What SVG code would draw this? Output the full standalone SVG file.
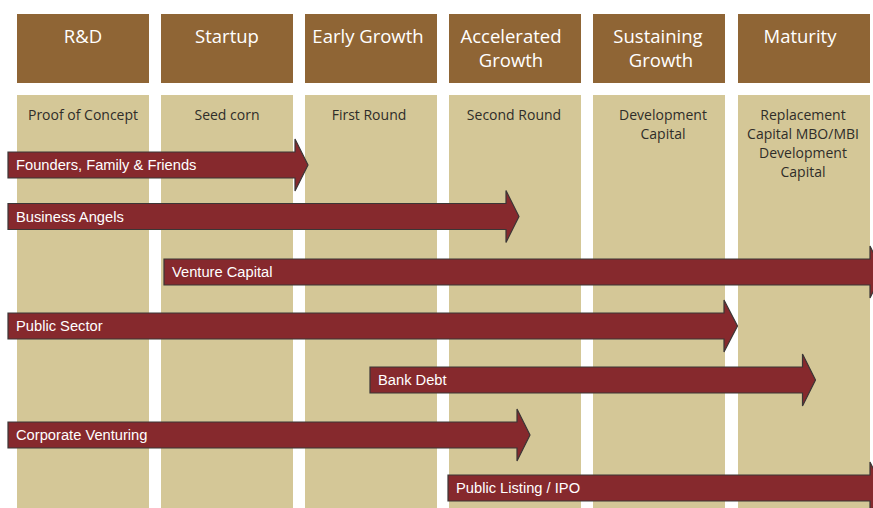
<svg xmlns="http://www.w3.org/2000/svg" width="873" height="508" viewBox="0 0 873 508">
  <style>
    .hdr { fill: #8f6535; }
    .col { fill: #d4c797; }
    .htxt { font-family: "Open Sans", "Noto Sans", sans-serif; font-size: 18.5px; fill: #ffffff; text-anchor: middle; }
    .stxt { font-family: "Open Sans", "Noto Sans", sans-serif; font-size: 14px; fill: #2f2d29; text-anchor: middle; }
    .arrow { fill: #86292d; stroke: #3b3636; stroke-width: 1.2; stroke-linejoin: miter; }
    .atxt { font-family: "Liberation Sans", Arial, sans-serif; font-size: 14.7px; fill: #ffffff; }
  </style>
  <rect width="873" height="508" fill="#ffffff"/>

  <!-- stage columns -->
  <g id="stage-rd">
    <rect class="hdr" x="17" y="14" width="132" height="69"/>
    <rect class="col" x="17" y="95" width="132" height="413"/>
    <text class="htxt" x="83" y="43">R&amp;D</text>
    <text class="stxt" x="83" y="120">Proof of Concept</text>
  </g>
  <g id="stage-startup">
    <rect class="hdr" x="161" y="14" width="132" height="69"/>
    <rect class="col" x="161" y="95" width="132" height="413"/>
    <text class="htxt" x="227" y="43">Startup</text>
    <text class="stxt" x="227" y="120">Seed corn</text>
  </g>
  <g id="stage-early-growth">
    <rect class="hdr" x="305" y="14" width="132" height="69"/>
    <rect class="col" x="305" y="95" width="132" height="413"/>
    <text class="htxt" x="368" y="43">Early Growth</text>
    <text class="stxt" x="369" y="120">First Round</text>
  </g>
  <g id="stage-accelerated-growth">
    <rect class="hdr" x="449" y="14" width="132" height="69"/>
    <rect class="col" x="449" y="95" width="132" height="413"/>
    <text class="htxt" x="511" y="43">Accelerated</text>
    <text class="htxt" x="511" y="67">Growth</text>
    <text class="stxt" x="514" y="120">Second Round</text>
  </g>
  <g id="stage-sustaining-growth">
    <rect class="hdr" x="593" y="14" width="132" height="69"/>
    <rect class="col" x="593" y="95" width="132" height="413"/>
    <text class="htxt" x="658" y="43">Sustaining</text>
    <text class="htxt" x="661" y="67">Growth</text>
    <text class="stxt" x="663" y="120">Development</text>
    <text class="stxt" x="663" y="139">Capital</text>
  </g>
  <g id="stage-maturity">
    <rect class="hdr" x="738" y="14" width="132" height="69"/>
    <rect class="col" x="738" y="95" width="132" height="413"/>
    <text class="htxt" x="800" y="43">Maturity</text>
    <text class="stxt" x="803" y="120">Replacement</text>
    <text class="stxt" x="803" y="139">Capital MBO/MBI</text>
    <text class="stxt" x="803" y="158">Development</text>
    <text class="stxt" x="803" y="177">Capital</text>
  </g>

  <!-- funding sources spanning the stages -->
  <g id="connectors">
    <g id="founders">
      <path class="arrow" d="M8,152 H295 V139 L308,165 L295,191 V178 H8 Z"/>
      <text class="atxt" x="16" y="170">Founders, Family &amp; Friends</text>
    </g>
    <g id="business-angels">
      <path class="arrow" d="M8,203.5 H506 V190.5 L519,216.5 L506,242.5 V229.5 H8 Z"/>
      <text class="atxt" x="16" y="221.5">Business Angels</text>
    </g>
    <g id="venture-capital">
      <path class="arrow" d="M164,259 H870 V246 L883,272 L870,298 V285 H164 Z"/>
      <text class="atxt" x="172" y="277">Venture Capital</text>
    </g>
    <g id="public-sector">
      <path class="arrow" d="M8,313 H724 V300 L737.5,326 L724,352 V339 H8 Z"/>
      <text class="atxt" x="16" y="331">Public Sector</text>
    </g>
    <g id="bank-debt">
      <path class="arrow" d="M370,367 H802.5 V354 L815.5,380 L802.5,406 V393 H370 Z"/>
      <text class="atxt" x="378" y="385">Bank Debt</text>
    </g>
    <g id="corporate-venturing">
      <path class="arrow" d="M8,422 H517 V409 L530,435 L517,461 V448 H8 Z"/>
      <text class="atxt" x="16" y="440">Corporate Venturing</text>
    </g>
    <g id="public-listing">
      <path class="arrow" d="M448,475 H870 V462 L883,488 L870,514 V501 H448 Z"/>
      <text class="atxt" x="456" y="493">Public Listing / IPO</text>
    </g>
  </g>
</svg>
